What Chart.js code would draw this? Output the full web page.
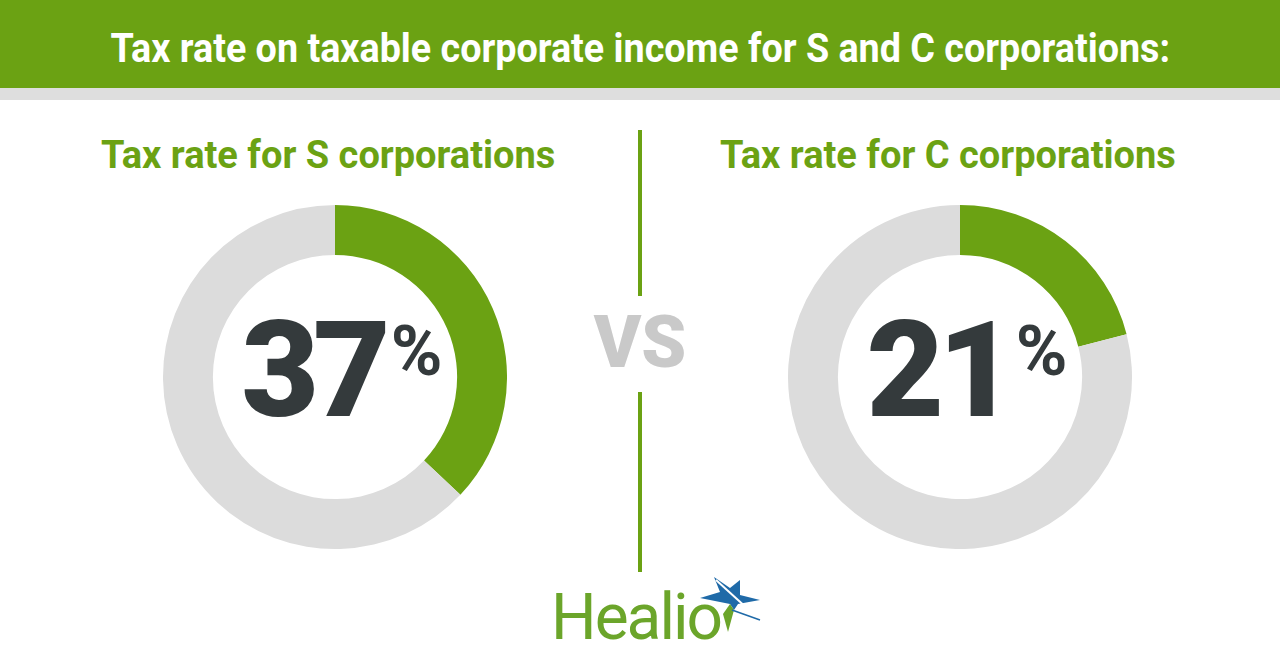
<!DOCTYPE html>
<html>
<head>
<meta charset="utf-8">
<script src="https://cdn.jsdelivr.net/npm/chart.js"></script>
<style>
  body { margin: 0; width: 1280px; height: 672px; background: #fff; overflow: hidden; position: relative; font-family: Roboto, "Noto Sans", sans-serif; }
  .header { position: absolute; left: 0; top: 0; width: 1280px; height: 88px; background: #6ba213; }
  .strip { position: absolute; left: 0; top: 88px; width: 1280px; height: 12px; background: #dedede; }
  .title { position: absolute; left: 0; top: 1px; width: 1280px; height: 96px; line-height: 96px; text-align: center; color: #fff; font-weight: bold; font-size: 40px; }
  .title span { display: inline-block; transform-origin: center; }
  .sub { position: absolute; top: 133px; color: #6ba213; font-weight: bold; font-size: 38px; }
  .donut { position: absolute; top: 205px; width: 344px; height: 344px; }
  .big { position: absolute; top: 292px; width: 344px; text-align: center; color: #343a3c; font-weight: 900; font-size: 134px; line-height: 157px; letter-spacing: -6px; padding-left: 14px; box-sizing: border-box; }
  .big .pct { display: inline-block; vertical-align: top; font-size: 70px; font-weight: 700; line-height: 70px; position: relative; top: 24px; letter-spacing: 0; margin-left: 6px; }
  .vline { position: absolute; left: 638px; width: 4px; background: #6ba213; }
  .vs { position: absolute; left: 590px; top: 300px; width: 100px; text-align: center; color: #c9c9c9; font-weight: 900; font-size: 72px; }
  .logo { position: absolute; left: 551px; top: 580px; color: #6ba52a; font-size: 64px; font-weight: 400; letter-spacing: -2px; }
</style>
</head>
<body>
<div class="header"></div>
<div class="strip"></div>
<div class="title"><span id="titleText">Tax rate on taxable corporate income for S and C corporations:</span></div>

<div class="sub" style="left:101px">Tax rate for S corporations</div>
<div class="sub" style="left:720px">Tax rate for C corporations</div>

<div class="donut" style="left:163px"><canvas id="chartS" width="344" height="344"></canvas></div>
<div class="donut" style="left:788px"><canvas id="chartC" width="344" height="344"></canvas></div>

<div class="big" id="bigS" style="left:163px"></div>
<div class="big" id="bigC" style="left:788px"></div>

<div class="vline" style="top:130px;height:166px"></div>
<div class="vline" style="top:392px;height:180px"></div>
<div class="vs">VS</div>

<div class="logo">Healio</div>
<svg style="position:absolute;left:690px;top:570px" width="80" height="70" viewBox="0 0 80 70">
  <polygon points="10,28 30,22 24,7 40,18 50,10 50,25 70,30 48,34 44,40 40,34" fill="#1f6aa8"/>
  <polygon points="40,34 44,40 38,62 33,44" fill="#6ba52a"/>
  <line x1="26" y1="10" x2="70" y2="50" stroke="#fff" stroke-width="2"/>
  <line x1="42" y1="40" x2="70" y2="50" stroke="#1f6aa8" stroke-width="1.5"/>
</svg>

<script>
const categories = ["S corporations", "C corporations"];
const taxRates = [37, 21];
const otherShare = [63, 79];
const sliceLabels = ["Tax rate", "Remainder"];

const green = "#6ba213";
const grey = "#dcdcdc";

function makeDonut(id, rate, rest) {
  const ctx = document.getElementById(id).getContext("2d");
  return new Chart(ctx, {
    type: "doughnut",
    data: {
      labels: sliceLabels,
      datasets: [{
        data: [rate, rest],
        backgroundColor: [green, grey],
        borderWidth: 0
      }]
    },
    options: {
      responsive: false,
      animation: false,
      cutout: "71%",
      plugins: { legend: { display: false }, tooltip: { enabled: false } }
    }
  });
}

makeDonut("chartS", taxRates[0], otherShare[0]);
makeDonut("chartC", taxRates[1], otherShare[1]);

document.getElementById("bigS").innerHTML = taxRates[0] + '<span class="pct">%</span>';
document.getElementById("bigC").innerHTML = taxRates[1] + '<span class="pct">%</span>';

// squeeze the title to the condensed width of the original
const t = document.getElementById("titleText");
t.style.transform = "scaleX(" + (1060 / t.offsetWidth) + ")";
</script>
</body>
</html>
